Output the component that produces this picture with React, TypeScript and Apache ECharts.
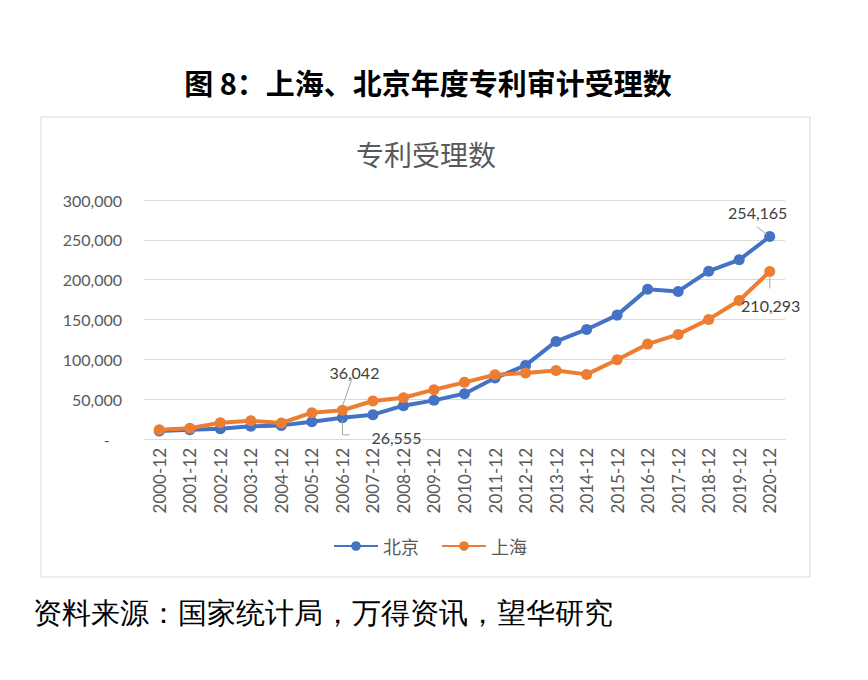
import React, { useEffect, useRef } from "react";
import * as echarts from "echarts";

const categories = [
  "2000-12", "2001-12", "2002-12", "2003-12", "2004-12", "2005-12", "2006-12",
  "2007-12", "2008-12", "2009-12", "2010-12", "2011-12", "2012-12", "2013-12",
  "2014-12", "2015-12", "2016-12", "2017-12", "2018-12", "2019-12", "2020-12",
];
const beijing = [
  10000, 11700, 13000, 15900, 17100, 21700, 26555, 30500, 41800, 48500, 56900,
  76500, 92400, 122500, 137500, 155500, 188100, 185200, 210700, 224900, 254165,
];
const shanghai = [
  11700, 13400, 20500, 23000, 20100, 33000, 36042, 47700, 51800, 61900, 71100,
  80700, 82800, 86100, 81100, 99500, 119100, 131300, 150100, 173900, 210293,
];
const yTicks = [0, 50000, 100000, 150000, 200000, 250000, 300000];
const labelledIdx = [6, 20];

const numFont = "Lato, 'Open Sans', sans-serif";
const cjkFont = "'Noto Sans CJK SC', sans-serif";

function fmt(v: number) {
  return v.toLocaleString("en-US");
}

export default function App() {
  const ref = useRef<HTMLDivElement>(null);
  useEffect(() => {
    document.body.style.margin = "0";
    const chart = echarts.init(ref.current!, null, { renderer: "svg" });
    const labelOffsets: Record<string, Record<number, number[]>> = {
      bj: { 6: [54, 20], 20: [-12, -24] },
      sh: { 6: [12, -38], 20: [1, 34] },
    };
    // leader line shapes, relative to the data point
    const leaders: Record<string, Record<number, number[][]>> = {
      bj: { 6: [[0, 2], [0, 17], [7, 17]], 20: [[-13, -10], [-3, -2]] },
      sh: { 6: [[10, -33], [0, -4]], 20: [[0, 3], [0, 17]] },
    };
    const mk = (vals: number[], key: string) =>
      vals.map((v, i) =>
        labelledIdx.includes(i)
          ? {
              value: v,
              label: {
                show: true,
                position: "inside",
                offset: labelOffsets[key][i],
                formatter: fmt(v),
                color: "#404040",
                fontSize: 16,
                fontFamily: numFont,
              },
            }
          : v
      );
    const baseGraphic: any[] = [
      {
        type: "text",
        x: 428,
        y: 82,
        style: {
          text: "图 8：上海、北京年度专利审计受理数",
          fontSize: 29,
          fontWeight: "bold",
          fontFamily: cjkFont,
          fill: "#000",
          align: "center",
          verticalAlign: "middle",
        },
      },
      {
        type: "rect",
        z: -10,
        shape: { x: 41, y: 117, width: 769, height: 460 },
        style: { fill: "#fff", stroke: "#D9D9D9", lineWidth: 1 },
      },
      {
        type: "text",
        x: 426,
        y: 154,
        style: {
          text: "专利受理数",
          fontSize: 28,
          fontFamily: cjkFont,
          fill: "#595959",
          align: "center",
          verticalAlign: "middle",
        },
      },
      {
        type: "text",
        x: 33,
        y: 613,
        style: {
          text: "资料来源：国家统计局，万得资讯，望华研究",
          fontSize: 29,
          fontFamily: "serif",
          fill: "#000",
          align: "left",
          verticalAlign: "middle",
        },
      },
    ];
    chart.setOption({
      animation: false,
      backgroundColor: "#fff",
      graphic: baseGraphic,
      legend: {
        top: 532,
        left: 328,
        itemWidth: 44,
        itemHeight: 12,
        itemGap: 22,
        textStyle: { fontSize: 18, color: "#595959", fontFamily: cjkFont },
        data: ["北京", "上海"],
      },
      grid: { left: 144, right: 83, top: 200, bottom: 241, containLabel: false },
      xAxis: {
        type: "category",
        data: categories,
        boundaryGap: true,
        axisLine: { show: true, lineStyle: { color: "#D9D9D9" } },
        axisTick: { show: false },
        axisLabel: {
          rotate: 90,
          interval: 0,
          color: "#595959",
          fontSize: 17,
          fontFamily: numFont,
          margin: 9,
        },
      },
      yAxis: {
        type: "value",
        min: yTicks[0],
        max: yTicks[yTicks.length - 1],
        interval: yTicks[1] - yTicks[0],
        axisLine: { show: false },
        axisTick: { show: false },
        splitLine: { lineStyle: { color: "#D9D9D9", width: 1 } },
        axisLabel: {
          color: "#595959",
          fontSize: 16,
          fontFamily: numFont,
          margin: 22,
          formatter: (v: number) => (v === 0 ? "-   " : fmt(v)),
        },
      },
      series: [
        {
          name: "北京",
          type: "line",
          data: mk(beijing, "bj"),
          symbol: "circle",
          symbolSize: 11,
          lineStyle: { width: 4, color: "#4472C4" },
          itemStyle: { color: "#4472C4" },
          z: 2,
        },
        {
          name: "上海",
          type: "line",
          data: mk(shanghai, "sh"),
          symbol: "circle",
          symbolSize: 11,
          lineStyle: { width: 4, color: "#ED7D31" },
          itemStyle: { color: "#ED7D31" },
          z: 3,
        },
      ],
    });
    const lines: any[] = [];
    (["bj", "sh"] as const).forEach((key, si) => {
      const vals = key === "bj" ? beijing : shanghai;
      labelledIdx.forEach((i) => {
        const p = chart.convertToPixel({ seriesIndex: si }, [i, vals[i]]) as number[];
        lines.push({
          type: "polyline",
          z: 100,
          shape: { points: leaders[key][i].map((d) => [p[0] + d[0], p[1] + d[1]]) },
          style: { stroke: "#A6A6A6", lineWidth: 1, fill: "none" },
        });
      });
    });
    chart.setOption({ graphic: [...baseGraphic, ...lines] });
    return () => chart.dispose();
  }, []);
  return (
    <div
      ref={ref}
      style={{ position: "absolute", left: 0, top: 0, width: 868, height: 680 }}
    />
  );
}
